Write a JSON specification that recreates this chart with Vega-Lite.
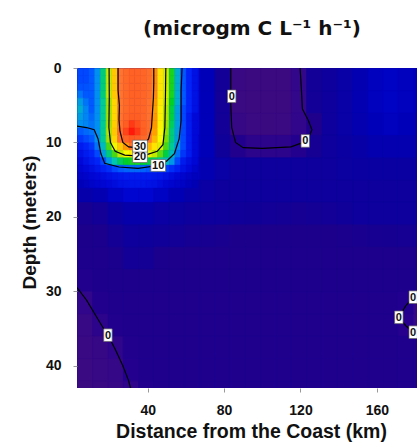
{
"$schema": "https://vega.github.io/schema/vega-lite/v6.json",
"width": 340, "height": 320,
"autosize": {"type": "none"},
"padding": {"left": 77, "top": 68, "right": 0, "bottom": 58},
"background": "white",
"config": {
 "view": {"stroke": null, "fill": "#14009a"},
 "axis": {"domain": false, "grid": false, "tickSize": 4, "tickColor": "#999", "labelFont": "Liberation Sans", "labelFontSize": 14, "labelFontWeight": "bold", "labelColor": "#111", "labelFlush": false, "titleFont": "Liberation Sans", "titleFontSize": 19, "titleFontWeight": "bold", "titleColor": "#111"}
},
"title": {"text": "(microgm C L⁻¹ h⁻¹)", "font": "DejaVu Sans", "fontSize": 20, "fontWeight": "bold", "color": "#111", "anchor": "middle", "dx": 5, "offset": 6, "baseline": "alphabetic"},
"datasets": {
"fine": [
{"x":3,"y":0,"v":8.5},{"x":6,"y":0,"v":8.5},{"x":9,"y":0,"v":9},{"x":12,"y":0,"v":10},{"x":15,"y":0,"v":13},{"x":18,"y":0,"v":19},{"x":21,"y":0,"v":26},{"x":24,"y":0,"v":30.5},{"x":27,"y":0,"v":32},{"x":30,"y":0,"v":33},{"x":33,"y":0,"v":33},{"x":36,"y":0,"v":32.5},{"x":39,"y":0,"v":31.5},{"x":42,"y":0,"v":29.5},{"x":45,"y":0,"v":24},{"x":48,"y":0,"v":19.5},{"x":51,"y":0,"v":15},{"x":54,"y":0,"v":11},{"x":57,"y":0,"v":9},{"x":60,"y":0,"v":7.5},{"x":63,"y":0,"v":6.5},
{"x":3,"y":1,"v":8.5},{"x":6,"y":1,"v":8.5},{"x":9,"y":1,"v":9},{"x":12,"y":1,"v":10},{"x":15,"y":1,"v":13},{"x":18,"y":1,"v":19},{"x":21,"y":1,"v":26},{"x":24,"y":1,"v":30.5},{"x":27,"y":1,"v":32},{"x":30,"y":1,"v":33},{"x":33,"y":1,"v":33},{"x":36,"y":1,"v":32.5},{"x":39,"y":1,"v":31.5},{"x":42,"y":1,"v":29.5},{"x":45,"y":1,"v":24},{"x":48,"y":1,"v":19.5},{"x":51,"y":1,"v":15},{"x":54,"y":1,"v":11},{"x":57,"y":1,"v":9},{"x":60,"y":1,"v":7.5},{"x":63,"y":1,"v":6.5},
{"x":3,"y":2,"v":8.8},{"x":6,"y":2,"v":8.8},{"x":9,"y":2,"v":9},{"x":12,"y":2,"v":10},{"x":15,"y":2,"v":13},{"x":18,"y":2,"v":19},{"x":21,"y":2,"v":26},{"x":24,"y":2,"v":30.5},{"x":27,"y":2,"v":32},{"x":30,"y":2,"v":33},{"x":33,"y":2,"v":33},{"x":36,"y":2,"v":32.5},{"x":39,"y":2,"v":31.5},{"x":42,"y":2,"v":29.5},{"x":45,"y":2,"v":24},{"x":48,"y":2,"v":19.5},{"x":51,"y":2,"v":15},{"x":54,"y":2,"v":11},{"x":57,"y":2,"v":9},{"x":60,"y":2,"v":7.5},{"x":63,"y":2,"v":6.5},
{"x":3,"y":3,"v":9.5},{"x":6,"y":3,"v":9},{"x":9,"y":3,"v":9},{"x":12,"y":3,"v":10},{"x":15,"y":3,"v":13},{"x":18,"y":3,"v":19},{"x":21,"y":3,"v":26},{"x":24,"y":3,"v":30.5},{"x":27,"y":3,"v":32},{"x":30,"y":3,"v":33},{"x":33,"y":3,"v":33},{"x":36,"y":3,"v":32.5},{"x":39,"y":3,"v":31.5},{"x":42,"y":3,"v":29.5},{"x":45,"y":3,"v":24},{"x":48,"y":3,"v":19.5},{"x":51,"y":3,"v":15},{"x":54,"y":3,"v":11},{"x":57,"y":3,"v":9},{"x":60,"y":3,"v":7.5},{"x":63,"y":3,"v":6.5},
{"x":3,"y":4,"v":10.5},{"x":6,"y":4,"v":9.5},{"x":9,"y":4,"v":9},{"x":12,"y":4,"v":10},{"x":15,"y":4,"v":12.5},{"x":18,"y":4,"v":18},{"x":21,"y":4,"v":25},{"x":24,"y":4,"v":30.3},{"x":27,"y":4,"v":32},{"x":30,"y":4,"v":33},{"x":33,"y":4,"v":33},{"x":36,"y":4,"v":32.5},{"x":39,"y":4,"v":31},{"x":42,"y":4,"v":29},{"x":45,"y":4,"v":23.5},{"x":48,"y":4,"v":19},{"x":51,"y":4,"v":14.5},{"x":54,"y":4,"v":11},{"x":57,"y":4,"v":9},{"x":60,"y":4,"v":7.5},{"x":63,"y":4,"v":6.5},
{"x":3,"y":5,"v":11},{"x":6,"y":5,"v":9.8},{"x":9,"y":5,"v":9},{"x":12,"y":5,"v":10},{"x":15,"y":5,"v":12.5},{"x":18,"y":5,"v":18},{"x":21,"y":5,"v":25},{"x":24,"y":5,"v":30.2},{"x":27,"y":5,"v":32},{"x":30,"y":5,"v":33},{"x":33,"y":5,"v":33},{"x":36,"y":5,"v":32.5},{"x":39,"y":5,"v":31},{"x":42,"y":5,"v":28.5},{"x":45,"y":5,"v":23},{"x":48,"y":5,"v":18.5},{"x":51,"y":5,"v":14},{"x":54,"y":5,"v":10.5},{"x":57,"y":5,"v":8.5},{"x":60,"y":5,"v":7.5},{"x":63,"y":5,"v":6.5},
{"x":3,"y":6,"v":10.5},{"x":6,"y":6,"v":9.8},{"x":9,"y":6,"v":9.3},{"x":12,"y":6,"v":10},{"x":15,"y":6,"v":12.5},{"x":18,"y":6,"v":18},{"x":21,"y":6,"v":25},{"x":24,"y":6,"v":30.5},{"x":27,"y":6,"v":32.5},{"x":30,"y":6,"v":33.5},{"x":33,"y":6,"v":33.5},{"x":36,"y":6,"v":32.5},{"x":39,"y":6,"v":31},{"x":42,"y":6,"v":29},{"x":45,"y":6,"v":23},{"x":48,"y":6,"v":18.5},{"x":51,"y":6,"v":14},{"x":54,"y":6,"v":10.5},{"x":57,"y":6,"v":8.5},{"x":60,"y":6,"v":7},{"x":63,"y":6,"v":6},
{"x":3,"y":7,"v":10},{"x":6,"y":7,"v":9.8},{"x":9,"y":7,"v":9.5},{"x":12,"y":7,"v":10},{"x":15,"y":7,"v":12.5},{"x":18,"y":7,"v":18},{"x":21,"y":7,"v":25.5},{"x":24,"y":7,"v":31},{"x":27,"y":7,"v":33.5},{"x":30,"y":7,"v":35.5},{"x":33,"y":7,"v":34.5},{"x":36,"y":7,"v":33},{"x":39,"y":7,"v":31.5},{"x":42,"y":7,"v":29},{"x":45,"y":7,"v":23},{"x":48,"y":7,"v":18},{"x":51,"y":7,"v":13.5},{"x":54,"y":7,"v":10.5},{"x":57,"y":7,"v":8.5},{"x":60,"y":7,"v":7},{"x":63,"y":7,"v":6},
{"x":3,"y":8,"v":9},{"x":6,"y":8,"v":9.3},{"x":9,"y":8,"v":9.5},{"x":12,"y":8,"v":10},{"x":15,"y":8,"v":12.5},{"x":18,"y":8,"v":18.5},{"x":21,"y":8,"v":26},{"x":24,"y":8,"v":31.5},{"x":27,"y":8,"v":35},{"x":30,"y":8,"v":37},{"x":33,"y":8,"v":35.5},{"x":36,"y":8,"v":33.5},{"x":39,"y":8,"v":31.5},{"x":42,"y":8,"v":28.5},{"x":45,"y":8,"v":22.5},{"x":48,"y":8,"v":17.5},{"x":51,"y":8,"v":13},{"x":54,"y":8,"v":10.5},{"x":57,"y":8,"v":8.5},{"x":60,"y":8,"v":7},{"x":63,"y":8,"v":6},
{"x":3,"y":9,"v":8},{"x":6,"y":9,"v":8.5},{"x":9,"y":9,"v":9},{"x":12,"y":9,"v":10},{"x":15,"y":9,"v":12.5},{"x":18,"y":9,"v":18},{"x":21,"y":9,"v":25},{"x":24,"y":9,"v":30.5},{"x":27,"y":9,"v":33},{"x":30,"y":9,"v":34},{"x":33,"y":9,"v":33.5},{"x":36,"y":9,"v":32},{"x":39,"y":9,"v":30.5},{"x":42,"y":9,"v":27},{"x":45,"y":9,"v":21.5},{"x":48,"y":9,"v":17},{"x":51,"y":9,"v":13},{"x":54,"y":9,"v":10.5},{"x":57,"y":9,"v":8.5},{"x":60,"y":9,"v":7},{"x":63,"y":9,"v":6},
{"x":3,"y":10,"v":7},{"x":6,"y":10,"v":7.5},{"x":9,"y":10,"v":8},{"x":12,"y":10,"v":9.5},{"x":15,"y":10,"v":11.5},{"x":18,"y":10,"v":16},{"x":21,"y":10,"v":21},{"x":24,"y":10,"v":26},{"x":27,"y":10,"v":29},{"x":30,"y":10,"v":31},{"x":33,"y":10,"v":31},{"x":36,"y":10,"v":29.5},{"x":39,"y":10,"v":27},{"x":42,"y":10,"v":24},{"x":45,"y":10,"v":20},{"x":48,"y":10,"v":16},{"x":51,"y":10,"v":12.5},{"x":54,"y":10,"v":10},{"x":57,"y":10,"v":8.5},{"x":60,"y":10,"v":7},{"x":63,"y":10,"v":6},
{"x":3,"y":11,"v":6.5},{"x":6,"y":11,"v":7},{"x":9,"y":11,"v":7.5},{"x":12,"y":11,"v":8.5},{"x":15,"y":11,"v":10.5},{"x":18,"y":11,"v":13},{"x":21,"y":11,"v":16},{"x":24,"y":11,"v":19},{"x":27,"y":11,"v":21.5},{"x":30,"y":11,"v":23},{"x":33,"y":11,"v":23},{"x":36,"y":11,"v":22},{"x":39,"y":11,"v":20.5},{"x":42,"y":11,"v":19},{"x":45,"y":11,"v":16.5},{"x":48,"y":11,"v":14},{"x":51,"y":11,"v":11.5},{"x":54,"y":11,"v":9.5},{"x":57,"y":11,"v":8},{"x":60,"y":11,"v":7},{"x":63,"y":11,"v":6},
{"x":3,"y":12,"v":6},{"x":6,"y":12,"v":6.5},{"x":9,"y":12,"v":7},{"x":12,"y":12,"v":7.5},{"x":15,"y":12,"v":8.5},{"x":18,"y":12,"v":10.3},{"x":21,"y":12,"v":12},{"x":24,"y":12,"v":13.5},{"x":27,"y":12,"v":14.5},{"x":30,"y":12,"v":15},{"x":33,"y":12,"v":15},{"x":36,"y":12,"v":14.5},{"x":39,"y":12,"v":14},{"x":42,"y":12,"v":13.5},{"x":45,"y":12,"v":12.5},{"x":48,"y":12,"v":11.5},{"x":51,"y":12,"v":10.3},{"x":54,"y":12,"v":8.5},{"x":57,"y":12,"v":7},{"x":60,"y":12,"v":6.3},{"x":63,"y":12,"v":5.8},
{"x":3,"y":13,"v":5.5},{"x":6,"y":13,"v":6},{"x":9,"y":13,"v":6.3},{"x":12,"y":13,"v":6.8},{"x":15,"y":13,"v":7.3},{"x":18,"y":13,"v":7.8},{"x":21,"y":13,"v":8.5},{"x":24,"y":13,"v":9},{"x":27,"y":13,"v":9.2},{"x":30,"y":13,"v":9.3},{"x":33,"y":13,"v":9.3},{"x":36,"y":13,"v":9.2},{"x":39,"y":13,"v":9},{"x":42,"y":13,"v":9},{"x":45,"y":13,"v":8.8},{"x":48,"y":13,"v":8.3},{"x":51,"y":13,"v":7.8},{"x":54,"y":13,"v":7.2},{"x":57,"y":13,"v":6.5},{"x":60,"y":13,"v":6},{"x":63,"y":13,"v":5.3},
{"x":3,"y":14,"v":5},{"x":6,"y":14,"v":5.3},{"x":9,"y":14,"v":5.7},{"x":12,"y":14,"v":6},{"x":15,"y":14,"v":6.2},{"x":18,"y":14,"v":6.5},{"x":21,"y":14,"v":6.7},{"x":24,"y":14,"v":6.9},{"x":27,"y":14,"v":7},{"x":30,"y":14,"v":7},{"x":33,"y":14,"v":7},{"x":36,"y":14,"v":7},{"x":39,"y":14,"v":7},{"x":42,"y":14,"v":6.9},{"x":45,"y":14,"v":6.8},{"x":48,"y":14,"v":6.5},{"x":51,"y":14,"v":6.2},{"x":54,"y":14,"v":5.8},{"x":57,"y":14,"v":5.5},{"x":60,"y":14,"v":5},{"x":63,"y":14,"v":4.7},
{"x":3,"y":15,"v":4.5},{"x":6,"y":15,"v":4.8},{"x":9,"y":15,"v":5.2},{"x":12,"y":15,"v":5.5},{"x":15,"y":15,"v":5.7},{"x":18,"y":15,"v":6},{"x":21,"y":15,"v":6.2},{"x":24,"y":15,"v":6.5},{"x":27,"y":15,"v":6.6},{"x":30,"y":15,"v":6.7},{"x":33,"y":15,"v":6.7},{"x":36,"y":15,"v":6.7},{"x":39,"y":15,"v":6.6},{"x":42,"y":15,"v":6.5},{"x":45,"y":15,"v":6.2},{"x":48,"y":15,"v":5.8},{"x":51,"y":15,"v":5.5},{"x":54,"y":15,"v":5.2},{"x":57,"y":15,"v":5},{"x":60,"y":15,"v":4.6},{"x":63,"y":15,"v":4.3}
],
"coarse": [
{"x":59,"y":0,"v":6},{"x":67,"y":0,"v":4.5},{"x":75,"y":0,"v":2.5},{"x":83,"y":0,"v":-1.2},{"x":91,"y":0,"v":-1.5},{"x":99,"y":0,"v":-1.5},{"x":107,"y":0,"v":-1.5},{"x":115,"y":0,"v":-0.3},{"x":123,"y":0,"v":2.5},{"x":131,"y":0,"v":3},{"x":139,"y":0,"v":3.5},{"x":147,"y":0,"v":4.2},{"x":155,"y":0,"v":4.8},{"x":163,"y":0,"v":5},{"x":171,"y":0,"v":4.8},{"x":179,"y":0,"v":4.5},
{"x":59,"y":3,"v":6},{"x":67,"y":3,"v":4.5},{"x":75,"y":3,"v":2.5},{"x":83,"y":3,"v":-1.3},{"x":91,"y":3,"v":-1.5},{"x":99,"y":3,"v":-1.5},{"x":107,"y":3,"v":-1.5},{"x":115,"y":3,"v":-0.3},{"x":123,"y":3,"v":2.5},{"x":131,"y":3,"v":3},{"x":139,"y":3,"v":3.5},{"x":147,"y":3,"v":4.2},{"x":155,"y":3,"v":4.8},{"x":163,"y":3,"v":5},{"x":171,"y":3,"v":4.8},{"x":179,"y":3,"v":4.5},
{"x":59,"y":6,"v":6},{"x":67,"y":6,"v":4.5},{"x":75,"y":6,"v":2.5},{"x":83,"y":6,"v":-0.8},{"x":91,"y":6,"v":-1.3},{"x":99,"y":6,"v":-1.4},{"x":107,"y":6,"v":-1.3},{"x":115,"y":6,"v":-0.2},{"x":123,"y":6,"v":1},{"x":131,"y":6,"v":3},{"x":139,"y":6,"v":3.5},{"x":147,"y":6,"v":4},{"x":155,"y":6,"v":4.5},{"x":163,"y":6,"v":4.8},{"x":171,"y":6,"v":4.5},{"x":179,"y":6,"v":4.2},
{"x":59,"y":9,"v":5.5},{"x":67,"y":9,"v":4.5},{"x":75,"y":9,"v":2.8},{"x":83,"y":9,"v":0.8},{"x":91,"y":9,"v":0},{"x":99,"y":9,"v":0},{"x":107,"y":9,"v":0},{"x":115,"y":9,"v":0.5},{"x":123,"y":9,"v":2.2},{"x":131,"y":9,"v":3},{"x":139,"y":9,"v":3.3},{"x":147,"y":9,"v":3.6},{"x":155,"y":9,"v":4},{"x":163,"y":9,"v":4},{"x":171,"y":9,"v":4},{"x":179,"y":9,"v":3.8},
{"x":59,"y":12,"v":5},{"x":67,"y":12,"v":4.2},{"x":75,"y":12,"v":3.5},{"x":83,"y":12,"v":3},{"x":91,"y":12,"v":3},{"x":99,"y":12,"v":3},{"x":107,"y":12,"v":3},{"x":115,"y":12,"v":3},{"x":123,"y":12,"v":3},{"x":131,"y":12,"v":3},{"x":139,"y":12,"v":3.2},{"x":147,"y":12,"v":3.3},{"x":155,"y":12,"v":3.3},{"x":163,"y":12,"v":3.3},{"x":171,"y":12,"v":3.3},{"x":179,"y":12,"v":3.3},
{"x":3,"y":15,"v":3.8},{"x":11,"y":15,"v":4.2},{"x":19,"y":15,"v":5},{"x":27,"y":15,"v":5.6},{"x":35,"y":15,"v":5.6},{"x":43,"y":15,"v":5},{"x":51,"y":15,"v":4.3},{"x":59,"y":15,"v":3.8},{"x":67,"y":15,"v":3.4},{"x":75,"y":15,"v":3},{"x":83,"y":15,"v":3},{"x":91,"y":15,"v":3},{"x":99,"y":15,"v":3},{"x":107,"y":15,"v":3},{"x":115,"y":15,"v":3},{"x":123,"y":15,"v":3},{"x":131,"y":15,"v":3},{"x":139,"y":15,"v":3},{"x":147,"y":15,"v":3},{"x":155,"y":15,"v":3},{"x":163,"y":15,"v":3},{"x":171,"y":15,"v":3},{"x":179,"y":15,"v":3},
{"x":3,"y":18,"v":2},{"x":11,"y":18,"v":2.5},{"x":19,"y":18,"v":3.3},{"x":27,"y":18,"v":3.8},{"x":35,"y":18,"v":3.8},{"x":43,"y":18,"v":3.4},{"x":51,"y":18,"v":3.2},{"x":59,"y":18,"v":3},{"x":67,"y":18,"v":3},{"x":75,"y":18,"v":3},{"x":83,"y":18,"v":2.7},{"x":91,"y":18,"v":2.6},{"x":99,"y":18,"v":2.4},{"x":107,"y":18,"v":2.3},{"x":115,"y":18,"v":2.2},{"x":123,"y":18,"v":2.3},{"x":131,"y":18,"v":2.4},{"x":139,"y":18,"v":2.7},{"x":147,"y":18,"v":3},{"x":155,"y":18,"v":3},{"x":163,"y":18,"v":3},{"x":171,"y":18,"v":3},{"x":179,"y":18,"v":3},
{"x":3,"y":21,"v":1.5},{"x":11,"y":21,"v":1.6},{"x":19,"y":21,"v":2.3},{"x":27,"y":21,"v":3},{"x":35,"y":21,"v":2.9},{"x":43,"y":21,"v":2.7},{"x":51,"y":21,"v":2.5},{"x":59,"y":21,"v":2.2},{"x":67,"y":21,"v":2},{"x":75,"y":21,"v":1.7},{"x":83,"y":21,"v":1.5},{"x":91,"y":21,"v":1.5},{"x":99,"y":21,"v":1.5},{"x":107,"y":21,"v":1.5},{"x":115,"y":21,"v":1.5},{"x":123,"y":21,"v":1.5},{"x":131,"y":21,"v":1.5},{"x":139,"y":21,"v":1.6},{"x":147,"y":21,"v":1.7},{"x":155,"y":21,"v":2},{"x":163,"y":21,"v":2.1},{"x":171,"y":21,"v":2.2},{"x":179,"y":21,"v":2.3},
{"x":3,"y":24,"v":1.4},{"x":11,"y":24,"v":1.4},{"x":19,"y":24,"v":1.6},{"x":27,"y":24,"v":2.4},{"x":35,"y":24,"v":2.3},{"x":43,"y":24,"v":1.6},{"x":51,"y":24,"v":1.4},{"x":59,"y":24,"v":1.4},{"x":67,"y":24,"v":1.4},{"x":75,"y":24,"v":1.4},{"x":83,"y":24,"v":1.4},{"x":91,"y":24,"v":1.4},{"x":99,"y":24,"v":1.4},{"x":107,"y":24,"v":1.4},{"x":115,"y":24,"v":1.4},{"x":123,"y":24,"v":1.4},{"x":131,"y":24,"v":1.4},{"x":139,"y":24,"v":1.4},{"x":147,"y":24,"v":1.4},{"x":155,"y":24,"v":1.4},{"x":163,"y":24,"v":1.4},{"x":171,"y":24,"v":1.4},{"x":179,"y":24,"v":1.5},
{"x":3,"y":27,"v":0.8},{"x":11,"y":27,"v":1.3},{"x":19,"y":27,"v":1.3},{"x":27,"y":27,"v":1.3},{"x":35,"y":27,"v":1.3},{"x":43,"y":27,"v":1.3},{"x":51,"y":27,"v":1.3},{"x":59,"y":27,"v":1.3},{"x":67,"y":27,"v":1.3},{"x":75,"y":27,"v":1.3},{"x":83,"y":27,"v":1.3},{"x":91,"y":27,"v":1.3},{"x":99,"y":27,"v":1.3},{"x":107,"y":27,"v":1.3},{"x":115,"y":27,"v":1.3},{"x":123,"y":27,"v":1.3},{"x":131,"y":27,"v":1.3},{"x":139,"y":27,"v":1.3},{"x":147,"y":27,"v":1.3},{"x":155,"y":27,"v":1.3},{"x":163,"y":27,"v":1.3},{"x":171,"y":27,"v":1.3},{"x":179,"y":27,"v":1.3},
{"x":3,"y":30,"v":-0.2},{"x":11,"y":30,"v":0.7},{"x":19,"y":30,"v":1.2},{"x":27,"y":30,"v":1.2},{"x":35,"y":30,"v":1.2},{"x":43,"y":30,"v":1.2},{"x":51,"y":30,"v":1.2},{"x":59,"y":30,"v":1.2},{"x":67,"y":30,"v":1.2},{"x":75,"y":30,"v":1.2},{"x":83,"y":30,"v":1.2},{"x":91,"y":30,"v":1.2},{"x":99,"y":30,"v":1.2},{"x":107,"y":30,"v":1.2},{"x":115,"y":30,"v":1.2},{"x":123,"y":30,"v":1.2},{"x":131,"y":30,"v":1.2},{"x":139,"y":30,"v":1.2},{"x":147,"y":30,"v":1.2},{"x":155,"y":30,"v":1.2},{"x":163,"y":30,"v":1.2},{"x":171,"y":30,"v":0.6},{"x":179,"y":30,"v":-0.4},
{"x":3,"y":33,"v":-0.9},{"x":11,"y":33,"v":0},{"x":19,"y":33,"v":0.8},{"x":27,"y":33,"v":1.2},{"x":35,"y":33,"v":1.2},{"x":43,"y":33,"v":1.2},{"x":51,"y":33,"v":1.2},{"x":59,"y":33,"v":1.2},{"x":67,"y":33,"v":1.2},{"x":75,"y":33,"v":1.2},{"x":83,"y":33,"v":1.2},{"x":91,"y":33,"v":1.2},{"x":99,"y":33,"v":1.2},{"x":107,"y":33,"v":1.2},{"x":115,"y":33,"v":1.2},{"x":123,"y":33,"v":1.2},{"x":131,"y":33,"v":1.2},{"x":139,"y":33,"v":1.2},{"x":147,"y":33,"v":1.2},{"x":155,"y":33,"v":1.2},{"x":163,"y":33,"v":1.2},{"x":171,"y":33,"v":0.2},{"x":179,"y":33,"v":-0.5},
{"x":3,"y":36,"v":-1.2},{"x":11,"y":36,"v":-0.8},{"x":19,"y":36,"v":-0.1},{"x":27,"y":36,"v":0.8},{"x":35,"y":36,"v":1.2},{"x":43,"y":36,"v":1.2},{"x":51,"y":36,"v":1.2},{"x":59,"y":36,"v":1.2},{"x":67,"y":36,"v":1.2},{"x":75,"y":36,"v":1.2},{"x":83,"y":36,"v":1.2},{"x":91,"y":36,"v":1.2},{"x":99,"y":36,"v":1.2},{"x":107,"y":36,"v":1.2},{"x":115,"y":36,"v":1.2},{"x":123,"y":36,"v":1.2},{"x":131,"y":36,"v":1.2},{"x":139,"y":36,"v":1.2},{"x":147,"y":36,"v":1.2},{"x":155,"y":36,"v":1.2},{"x":163,"y":36,"v":1.2},{"x":171,"y":36,"v":1.1},{"x":179,"y":36,"v":1},
{"x":3,"y":39,"v":-1.3},{"x":11,"y":39,"v":-1},{"x":19,"y":39,"v":-0.6},{"x":27,"y":39,"v":0.3},{"x":35,"y":39,"v":1},{"x":43,"y":39,"v":1.2},{"x":51,"y":39,"v":1.2},{"x":59,"y":39,"v":1.2},{"x":67,"y":39,"v":1.2},{"x":75,"y":39,"v":1.2},{"x":83,"y":39,"v":1.2},{"x":91,"y":39,"v":1.2},{"x":99,"y":39,"v":1.2},{"x":107,"y":39,"v":1.2},{"x":115,"y":39,"v":1.2},{"x":123,"y":39,"v":1.2},{"x":131,"y":39,"v":1.2},{"x":139,"y":39,"v":1.2},{"x":147,"y":39,"v":1.2},{"x":155,"y":39,"v":1.2},{"x":163,"y":39,"v":1.2},{"x":171,"y":39,"v":1.2},{"x":179,"y":39,"v":1.2},
{"x":3,"y":42,"v":-1.4},{"x":11,"y":42,"v":-1.1},{"x":19,"y":42,"v":-0.8},{"x":27,"y":42,"v":-0.1},{"x":35,"y":42,"v":0.9},{"x":43,"y":42,"v":1.2},{"x":51,"y":42,"v":1.2},{"x":59,"y":42,"v":1.2},{"x":67,"y":42,"v":1.2},{"x":75,"y":42,"v":1.2},{"x":83,"y":42,"v":1.2},{"x":91,"y":42,"v":1.2},{"x":99,"y":42,"v":1.2},{"x":107,"y":42,"v":1.2},{"x":115,"y":42,"v":1.2},{"x":123,"y":42,"v":1.2},{"x":131,"y":42,"v":1.2},{"x":139,"y":42,"v":1.2},{"x":147,"y":42,"v":1.2},{"x":155,"y":42,"v":1.2},{"x":163,"y":42,"v":1.2},{"x":171,"y":42,"v":1.2},{"x":179,"y":42,"v":1.2}
],
"lines": [
{"c":"a","i":0,"x":24.5,"y":0},{"c":"a","i":1,"x":24.5,"y":3},{"c":"a","i":2,"x":25.2,"y":5},{"c":"a","i":3,"x":25,"y":7},{"c":"a","i":4,"x":25.5,"y":8.5},{"c":"a","i":5,"x":27,"y":10},{"c":"a","i":6,"x":30,"y":10.6},{"c":"a","i":7,"x":34,"y":10.7},{"c":"a","i":8,"x":38,"y":10.4},{"c":"a","i":9,"x":40.5,"y":9.5},{"c":"a","i":10,"x":42,"y":8},{"c":"a","i":11,"x":42.5,"y":6},{"c":"a","i":12,"x":43,"y":4},{"c":"a","i":13,"x":43.2,"y":2},{"c":"a","i":14,"x":43.2,"y":0},
{"c":"b","i":0,"x":19.8,"y":0},{"c":"b","i":1,"x":19.9,"y":4},{"c":"b","i":2,"x":19.7,"y":8},{"c":"b","i":3,"x":20.5,"y":10},{"c":"b","i":4,"x":23,"y":11.2},{"c":"b","i":5,"x":28,"y":11.7},{"c":"b","i":6,"x":34,"y":11.8},{"c":"b","i":7,"x":40,"y":11.6},{"c":"b","i":8,"x":45,"y":11.2},{"c":"b","i":9,"x":48,"y":10.3},{"c":"b","i":10,"x":49,"y":8},{"c":"b","i":11,"x":49.3,"y":4},{"c":"b","i":12,"x":49.5,"y":0},
{"c":"c","i":0,"x":3,"y":7.8},{"c":"c","i":1,"x":8,"y":8},{"c":"c","i":2,"x":12,"y":8.3},{"c":"c","i":3,"x":14,"y":9.5},{"c":"c","i":4,"x":15.5,"y":11.5},{"c":"c","i":5,"x":17.5,"y":12.8},{"c":"c","i":6,"x":25,"y":13.3},{"c":"c","i":7,"x":35,"y":13.5},{"c":"c","i":8,"x":45.5,"y":13.1},{"c":"c","i":9,"x":50,"y":12.5},{"c":"c","i":10,"x":54,"y":11.5},{"c":"c","i":11,"x":56.5,"y":9.5},{"c":"c","i":12,"x":57.5,"y":7},{"c":"c","i":13,"x":57.5,"y":3},{"c":"c","i":14,"x":58,"y":0},
{"c":"d","i":0,"x":83.5,"y":0},{"c":"d","i":1,"x":83.5,"y":5},{"c":"d","i":2,"x":84,"y":8},{"c":"d","i":3,"x":86,"y":10},{"c":"d","i":4,"x":90,"y":10.7},{"c":"d","i":5,"x":100,"y":10.8},{"c":"d","i":6,"x":115,"y":10.6},{"c":"d","i":7,"x":121.5,"y":10},{"c":"d","i":8,"x":124,"y":9.5},{"c":"d","i":9,"x":126,"y":8.3},{"c":"d","i":10,"x":124,"y":7},{"c":"d","i":11,"x":121,"y":5.5},{"c":"d","i":12,"x":120.5,"y":3},{"c":"d","i":13,"x":119.8,"y":0},
{"c":"e","i":0,"x":3,"y":29.5},{"c":"e","i":1,"x":8,"y":31.2},{"c":"e","i":2,"x":15,"y":34.2},{"c":"e","i":3,"x":20,"y":36.3},{"c":"e","i":4,"x":23,"y":37.8},{"c":"e","i":5,"x":27,"y":40},{"c":"e","i":6,"x":30,"y":42},{"c":"e","i":7,"x":31.5,"y":43.5},
{"c":"f","i":0,"x":182,"y":30},{"c":"f","i":1,"x":179,"y":30.8},{"c":"f","i":2,"x":175,"y":32},{"c":"f","i":3,"x":171.5,"y":33.5},{"c":"f","i":4,"x":175,"y":34.6},{"c":"f","i":5,"x":179,"y":35.5},{"c":"f","i":6,"x":182,"y":36.2}
],
"labels": [
{"x":36,"y":11.9,"t":"20"},{"x":36,"y":10.5,"t":"30"},{"x":45.5,"y":13.1,"t":"10"},{"x":84,"y":3.8,"t":"0"},{"x":122.5,"y":9.8,"t":"0"},{"x":19.2,"y":35.9,"t":"0"},{"x":171.5,"y":33.5,"t":"0"},{"x":179,"y":30.8,"t":"0"},{"x":179,"y":35.5,"t":"0"}
]
},
"layer": [
{
 "data": {"name": "coarse"},
 "mark": {"type": "rect", "clip": true, "strokeWidth": 0.6},
 "encoding": {
  "x": {"field": "x", "type": "quantitative", "bin": {"binned": true, "step": 8}, "title": "Distance from the Coast (km)", "scale": {"domain": [3, 181], "nice": false, "zero": false}, "axis": {"values": [40, 80, 120, 160], "labelPadding": 11, "titleX": 174, "titleY": 49, "titleBaseline": "alphabetic", "titleFontSize": 19.5}},
  "y": {"field": "y", "type": "quantitative", "bin": {"binned": true, "step": 3}, "title": "Depth (meters)", "scale": {"domain": [0, 43], "reverse": true, "nice": false, "zero": false}, "axis": {"values": [0, 10, 20, 30, 40], "labelPadding": 12, "titleX": -42, "titleY": 154, "titleBaseline": "alphabetic", "titleAngle": 270}},
  "color": {"field": "v", "type": "quantitative", "legend": null, "scale": {"domain": [-1.5,-0.3,0.3,1.5,3,4.5,6,7.5,9,10,12,14.5,17.5,20,22,26,29,30,34,37], "range": ["#3b0a80","#33078a","#24008e","#1c008c","#0d009c","#0000b8","#0008d8","#0024f8","#0058ff","#0090f0","#00c8b0","#00d028","#90e000","#e0f000","#ffff00","#ffc800","#ff9800","#ff7830","#ff5a20","#ff1a0a"], "interpolate": "rgb", "clamp": true}},
  "stroke": {"field": "v", "type": "quantitative", "legend": null, "scale": {"domain": [-1.5,-0.3,0.3,1.5,3,4.5,6,7.5,9,10,12,14.5,17.5,20,22,26,29,30,34,37], "range": ["#3b0a80","#33078a","#24008e","#1c008c","#0d009c","#0000b8","#0008d8","#0024f8","#0058ff","#0090f0","#00c8b0","#00d028","#90e000","#e0f000","#ffff00","#ffc800","#ff9800","#ff7830","#ff5a20","#ff1a0a"], "interpolate": "rgb", "clamp": true}}
 }
},
{
 "data": {"name": "fine"},
 "mark": {"type": "rect", "clip": true, "strokeWidth": 0.6},
 "encoding": {
  "x": {"field": "x", "type": "quantitative", "bin": {"binned": true, "step": 3}, "title": "Distance from the Coast (km)", "scale": {"domain": [3, 181], "nice": false, "zero": false}},
  "y": {"field": "y", "type": "quantitative", "bin": {"binned": true, "step": 1}, "title": "Depth (meters)", "scale": {"domain": [0, 43], "reverse": true, "nice": false, "zero": false}},
  "color": {"field": "v", "type": "quantitative", "legend": null},
  "stroke": {"field": "v", "type": "quantitative", "legend": null}
 }
},
{
 "data": {"name": "lines"},
 "mark": {"type": "line", "clip": true, "color": "#000", "strokeWidth": 1.2},
 "encoding": {
  "x": {"field": "x", "type": "quantitative", "title": "Distance from the Coast (km)"},
  "y": {"field": "y", "type": "quantitative", "title": "Depth (meters)"},
  "detail": {"field": "c", "type": "nominal"},
  "order": {"field": "i", "type": "quantitative"}
 }
},
{
 "data": {"name": "labels"},
 "mark": {"type": "point", "filled": true, "fill": "white", "stroke": "#666", "strokeWidth": 0.7, "opacity": 1, "size": 196, "clip": true},
 "encoding": {
  "x": {"field": "x", "type": "quantitative", "title": "Distance from the Coast (km)"},
  "y": {"field": "y", "type": "quantitative", "title": "Depth (meters)"},
  "shape": {"field": "t", "type": "nominal", "legend": null, "scale": {"domain": ["0", "10", "20", "30"], "range": ["M-0.6,-0.9L0.6,-0.9L0.6,0.9L-0.6,0.9Z", "M-1.05,-0.85L1.05,-0.85L1.05,0.85L-1.05,0.85Z", "M-1.05,-0.85L1.05,-0.85L1.05,0.85L-1.05,0.85Z", "M-1.05,-0.85L1.05,-0.85L1.05,0.85L-1.05,0.85Z"]}}
 }
},
{
 "data": {"name": "labels"},
 "mark": {"type": "text", "font": "Liberation Sans", "fontSize": 11, "fontWeight": "bold", "color": "#111", "align": "center", "baseline": "middle", "dy": 0.5, "clip": true},
 "encoding": {
  "x": {"field": "x", "type": "quantitative", "title": "Distance from the Coast (km)"},
  "y": {"field": "y", "type": "quantitative", "title": "Depth (meters)"},
  "text": {"field": "t", "type": "nominal"}
 }
}
]
}
